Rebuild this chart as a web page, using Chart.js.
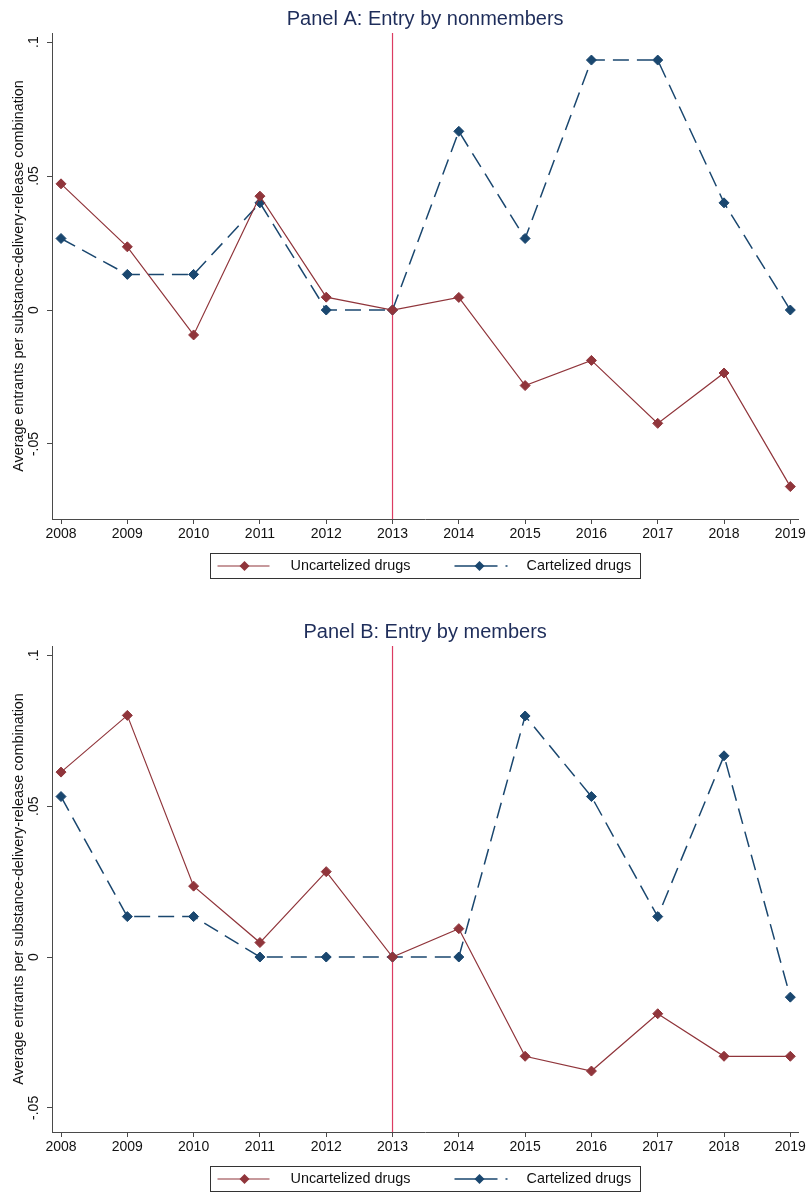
<!DOCTYPE html>
<html>
<head>
<meta charset="utf-8">
<script src="https://cdn.jsdelivr.net/npm/chart.js@4.4.1/dist/chart.umd.min.js"></script>
<style>
  html, body { margin: 0; padding: 0; background: #fff; }
  .panel { position: relative; width: 808px; }
  #panelA { height: 613px; }
  #panelB { height: 579px; }
</style>
</head>
<body>
<div class="panel" id="panelA"><canvas id="chartA"></canvas></div>
<div class="panel" id="panelB"><canvas id="chartB"></canvas></div>
<script>
// Data
const years = [2008, 2009, 2010, 2011, 2012, 2013, 2014, 2015, 2016, 2017, 2018, 2019];
const eventYear = 2013;
const yTickValues = [-0.05, 0, 0.05, 0.1];
const yTickLabels = ['-.05', '0', '.05', '.1'];

// Panel A: entry by nonmembers
const uncartA = [0.0471, 0.0236, -0.0093, 0.0425, 0.0048, 0, 0.0047, -0.0282, -0.0188, -0.0423, -0.0235, -0.0659];
const cartA = [0.0267, 0.0133, 0.0133, 0.0400, 0, 0, 0.0667, 0.0267, 0.0933, 0.0933, 0.0400, 0];
const yRangeA = [-0.078, 0.1034];

// Panel B: entry by members
const uncartB = [0.0613, 0.0801, 0.0235, 0.0048, 0.0283, 0, 0.0094, -0.0329, -0.0378, -0.0188, -0.0329, -0.0329];
const cartB = [0.0532, 0.0134, 0.0134, 0, 0, 0, 0, 0.0799, 0.0532, 0.0134, 0.0667, -0.0133];
const yRangeB = [-0.058, 0.1031];

const xRange = [2007.864, 2019.12];

// Styles
const FONT = '"Liberation Sans", Arial, sans-serif';
const MAROON = '#90353b';
const NAVY = '#1a476f';
const VLINE = '#dc3c62';
const AXIS = '#4a4a4a';
const TEXT = '#111111';
const TITLE = '#1e2d5a';

// Stata-like boxed legend under the plot
const boxLegend = {
    id: 'boxLegend',
    afterDraw(chart) {
        const { ctx, chartArea } = chart;
        const cx = (chartArea.left + chartArea.right) / 2;
        const left = Math.round(cx - 215) + 0.5;
        const top = Math.round(chartArea.bottom + 34) + 0.5;
        const w = 430, h = 25;
        const midY = top + h / 2;
        ctx.save();
        ctx.strokeStyle = '#333';
        ctx.lineWidth = 1;
        ctx.setLineDash([]);
        ctx.strokeRect(left, top, w, h);

        const items = [
            { ds: chart.data.datasets[0], x0: 7, x1: 59, mx: 34, tx: 80, dash: [] },
            { ds: chart.data.datasets[1], x0: 244, x1: 298, mx: 269, tx: 316, dash: [43, 8, 2, 20] }
        ];
        items.forEach(it => {
            ctx.strokeStyle = it.ds.borderColor;
            ctx.lineWidth = it.ds.borderWidth;
            ctx.setLineDash(it.dash);
            ctx.beginPath();
            ctx.moveTo(left + it.x0, midY);
            ctx.lineTo(left + it.x1, midY);
            ctx.stroke();
            ctx.setLineDash([]);
            // diamond marker
            const r = 5, mx = left + it.mx;
            ctx.fillStyle = it.ds.pointBackgroundColor;
            ctx.beginPath();
            ctx.moveTo(mx, midY - r);
            ctx.lineTo(mx + r, midY);
            ctx.lineTo(mx, midY + r);
            ctx.lineTo(mx - r, midY);
            ctx.closePath();
            ctx.fill();
            ctx.fillStyle = TEXT;
            ctx.font = '14.4px ' + FONT;
            ctx.textBaseline = 'middle';
            ctx.textAlign = 'left';
            ctx.fillText(it.ds.label, left + it.tx, midY);
        });
        ctx.restore();
    }
};

function toPoints(vals) {
    return years.map((yr, i) => ({ x: yr, y: vals[i] }));
}

function makePanel(canvasId, titleText, uncart, cart, yRange, padBottom) {
    const ctx = document.getElementById(canvasId).getContext('2d');
    return new Chart(ctx, {
        type: 'line',
        data: {
            datasets: [
                {
                    label: 'Uncartelized drugs',
                    data: toPoints(uncart),
                    borderColor: MAROON,
                    backgroundColor: MAROON,
                    pointBackgroundColor: MAROON,
                    pointBorderColor: MAROON,
                    borderWidth: 1.2,
                    pointStyle: 'rectRot',
                    pointRadius: 5,
                    pointBorderWidth: 1,
                    tension: 0
                },
                {
                    label: 'Cartelized drugs',
                    data: toPoints(cart),
                    borderColor: NAVY,
                    backgroundColor: NAVY,
                    pointBackgroundColor: NAVY,
                    pointBorderColor: NAVY,
                    borderWidth: 1.5,
                    borderDash: [16, 8],
                    pointStyle: 'rectRot',
                    pointRadius: 5,
                    pointBorderWidth: 1,
                    tension: 0
                },
                {
                    label: 'event',
                    data: [{ x: eventYear, y: yRange[0] }, { x: eventYear, y: yRange[1] }],
                    borderColor: VLINE,
                    borderWidth: 1.2,
                    pointRadius: 0
                }
            ]
        },
        options: {
            responsive: true,
            maintainAspectRatio: false,
            animation: false,
            events: [],
            layout: { padding: { top: 0, left: 0, right: 9, bottom: padBottom } },
            scales: {
                x: {
                    type: 'linear',
                    min: xRange[0],
                    max: xRange[1],
                    afterBuildTicks: ax => { ax.ticks = years.map(v => ({ value: v })); },
                    afterFit: ax => { ax.height = 34; },
                    ticks: {
                        autoSkip: false,
                        maxRotation: 0,
                        padding: 2,
                        color: TEXT,
                        font: { family: FONT, size: 14 },
                        callback: v => String(v)
                    },
                    grid: { drawOnChartArea: false, tickLength: 5, color: AXIS, lineWidth: 1 },
                    border: { color: AXIS, width: 1 }
                },
                y: {
                    type: 'linear',
                    min: yRange[0],
                    max: yRange[1],
                    afterBuildTicks: ax => { ax.ticks = yTickValues.map(v => ({ value: v })); },
                    afterFit: ax => { ax.width = 52; },
                    ticks: {
                        autoSkip: false,
                        minRotation: 90,
                        maxRotation: 90,
                        crossAlign: 'center',
                        padding: 1,
                        color: TEXT,
                        font: { family: FONT, size: 14 },
                        callback: (v, i) => yTickLabels[i]
                    },
                    grid: { drawOnChartArea: false, tickLength: 5, color: AXIS, lineWidth: 1 },
                    border: { color: AXIS, width: 1 },
                    title: {
                        display: true,
                        text: 'Average entrants per substance-delivery-release combination',
                        color: TEXT,
                        font: { family: FONT, size: 14.4 },
                        padding: { top: 10, bottom: 0 }
                    }
                }
            },
            plugins: {
                legend: { display: false },
                tooltip: { enabled: false },
                title: {
                    display: true,
                    text: titleText,
                    fullSize: false,
                    color: TITLE,
                    font: { family: FONT, size: 20, weight: 'normal' },
                    padding: { top: 7.6, bottom: 1.4 }
                }
            }
        },
        plugins: [boxLegend]
    });
}

makePanel('chartA', 'Panel A: Entry by nonmembers', uncartA, cartA, yRangeA, 60);
makePanel('chartB', 'Panel B: Entry by members', uncartB, cartB, yRangeB, 26);
</script>
</body>
</html>
